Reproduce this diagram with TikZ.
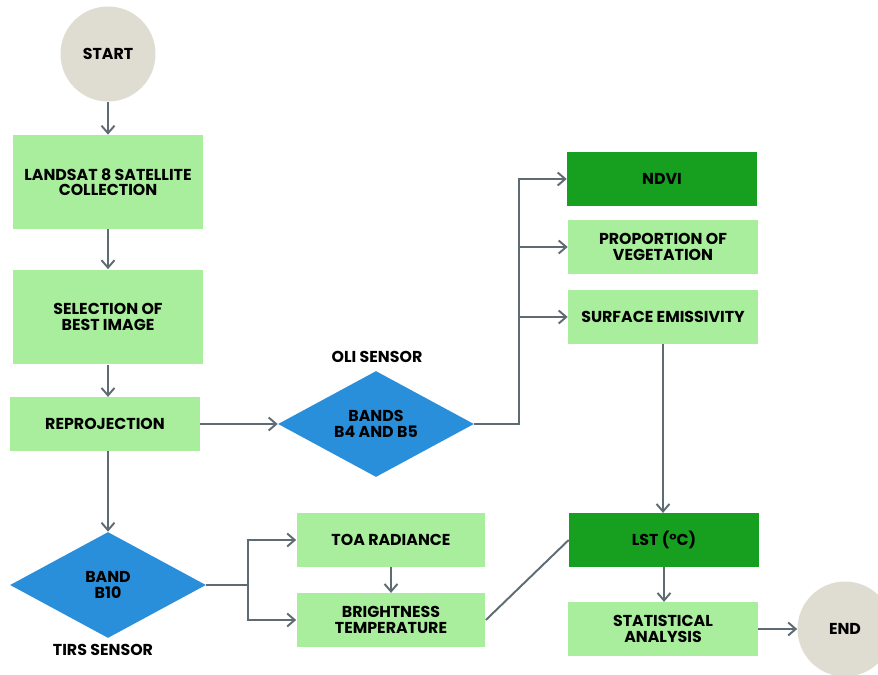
\documentclass[tikz,border=0pt]{standalone}
\usepackage{fontspec}
\setmainfont{Poppins}
\usepackage{xcolor}
\usetikzlibrary{arrows.meta, shapes.geometric}
\definecolor{lightgreen}{HTML}{A9EE9C}
\definecolor{darkgreen}{HTML}{179F1F}
\definecolor{bandblue}{HTML}{2A8FDB}
\definecolor{beige}{HTML}{DFDCD1}
\definecolor{linegray}{HTML}{5F6B72}

\begin{document}
\begin{tikzpicture}[x=0.02cm, y=-0.02cm, >={Straight Barb[length=1.5mm, width=2.6mm]},
  every node/.style={font=\fontsize{9}{8.8}\selectfont\bfseries, align=center, inner sep=0pt},
  terminal/.style={circle, fill=beige, minimum size=1.9cm},
  stepbox/.style={rectangle, fill=lightgreen, minimum width=3.8cm, minimum height=1.07cm},
  resultbox/.style={stepbox, fill=darkgreen},
  bandnode/.style={diamond, fill=bandblue, aspect=1.85, minimum width=3.92cm, minimum height=2.12cm},
  flow/.style={draw=linegray, line width=1.1pt}]
  \clip (0,0) rectangle (878,675);
  \fill[white] (0,0) rectangle (878,675);
  % left column
  \node[terminal] (start) at (108,54) {START};
  \node[stepbox, minimum height=1.88cm, minimum width=3.82cm] (landsat) at (108,182) {LANDSAT 8 SATELLITE\\COLLECTION};
  \node[stepbox, minimum height=1.9cm, minimum width=3.82cm] (select) at (108,317) {SELECTION OF\\BEST IMAGE};
  \node[stepbox] (reproj) at (105,424) {REPROJECTION};
  \node[bandnode] (b10) at (108,585) {BAND\\B10};
  \node (tirs) at (103,650) {TIRS SENSOR};
  % middle column
  \node[bandnode] (oli) at (376,424) {BANDS\\B4 AND B5};
  \node (olilabel) at (377,357) {OLI SENSOR};
  \node[stepbox, minimum width=3.78cm] (toa) at (391,540) {TOA RADIANCE};
  \node[stepbox, minimum width=3.78cm] (bt) at (391,620) {BRIGHTNESS\\TEMPERATURE};
  % right column
  \node[resultbox] (ndvi) at (662,179) {NDVI};
  \node[stepbox] (pv) at (663,247) {PROPORTION OF\\VEGETATION};
  \node[stepbox] (se) at (663,317) {SURFACE EMISSIVITY};
  \node[resultbox] (lst) at (664,540) {LST (°C)};
  \node[stepbox] (stat) at (663,629) {STATISTICAL\\ANALYSIS};
  \node[terminal] (end) at (845,629) {END};
  \coordinate (tirsbus) at (248,585);
  \coordinate (olibus) at (519,424);
  % connectors
  \draw[flow, ->] (start) -- (landsat);
  \draw[flow, ->] (landsat) -- (select);
  \draw[flow, ->] (select.south) -- (select.south |- reproj.north);
  \draw[flow, ->] (reproj.east) -- (oli.west);
  \draw[flow, ->] (select.south |- reproj.south) -- (b10.north);
  \draw[flow] (b10.east) -- (tirsbus);
  \draw[flow, ->] (tirsbus) |- (toa.west);
  \draw[flow, ->] (tirsbus) |- (bt.west);
  \draw[flow, ->] (toa) -- (bt);
  \draw[flow, ->] (oli.east) -- (olibus) |- (ndvi.west);
  \draw[flow, ->] (olibus |- pv.west) -- (pv.west);
  \draw[flow, ->] (olibus |- se.west) -- (se.west);
  \draw[flow, ->] (se.south) -- (se.south |- lst.north);
  \draw[flow] (bt.east) -- (lst.west);
  \draw[flow, ->] (lst.south) -- (lst.south |- stat.north);
  \draw[flow, ->] (stat.east) -- (end);
\end{tikzpicture}
\end{document}
